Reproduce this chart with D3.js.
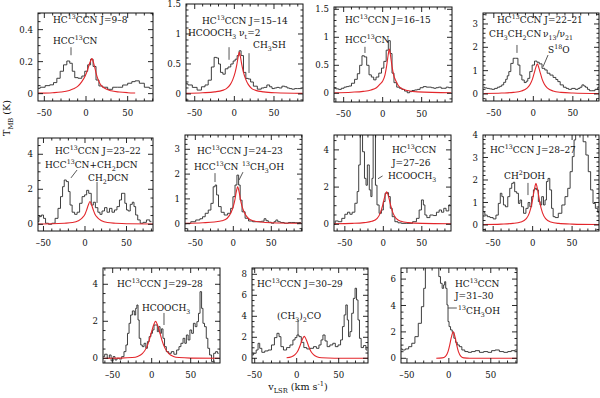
<!DOCTYPE html>
<html>
<head>
<meta charset="utf-8">
<script src="https://cdn.jsdelivr.net/npm/d3@7"></script>
<style>
  body { margin: 0; background: #fff; }
  svg text { font-family: "DejaVu Serif", serif; fill: #111; }
</style>
</head>
<body>
<svg id="chart" width="600" height="398"></svg>
<script>
// ---- Data: spectra [v_LSR, T_MB] ----
const spec1 = [[-58,0.033],[-52,0.04],[-46,0.05],[-41,0.055],[-37,0.069],[-33,0.096],[-29,0.14],[-25,0.18],[-21,0.204],[-18,0.19],[-15,0.14],[-12,0.10],[-7,0.096],[-3,0.11],[0,0.14],[4,0.18],[7,0.215],[10,0.17],[14,0.085],[17,0.048],[23,0.04],[29,0.027],[35,0.04],[41,0.04],[47,0.054],[53,0.065],[57,0.075],[61,0.08],[67,0.065],[73,0.04],[79,0.033]];
const spec2 = [[-61,0.17],[-56,0.15],[-50,0.11],[-44,0.065],[-39,0.12],[-35,0.15],[-31,0.23],[-27,0.45],[-24,0.61],[-21,0.6],[-19,0.5],[-16,0.36],[-13,0.33],[-10,0.42],[-6,0.45],[-3,0.5],[0,0.55],[2,0.58],[5,0.64],[7,0.72],[10,0.64],[13,0.36],[16,0.26],[19,0.25],[22,0.2],[26,0.13],[32,0.08],[36,0.1],[39,0.11],[43,0.15],[46,0.12],[49,0.09],[52,0.1],[55,0.11],[58,0.1],[62,0.13],[65,0.12],[68,0.1],[71,0.09],[74,0.08],[78,0.09],[81,0.09],[85,0.09]];
const spec3 = [[-62,0.09],[-58,0.08],[-55,0.07],[-51,0.09],[-48,0.11],[-45,0.12],[-42,0.13],[-38,0.18],[-34,0.25],[-31,0.35],[-28,0.5],[-25,0.67],[-22,0.65],[-19,0.5],[-16,0.33],[-13,0.29],[-10,0.24],[-7,0.29],[-3,0.36],[0,0.45],[3,0.57],[6,0.77],[8.5,0.94],[11,0.71],[13,0.36],[16,0.19],[20,0.11],[23,0.09],[26,0.07],[30,0.04],[33,0.01],[36,0.03],[39,0.05],[43,0.06],[46,0.07],[50,0.1],[54,0.12],[58,0.11],[61,0.11],[64,0.1],[67,0.09],[70,0.1],[73,0.11],[77,0.09],[80,0.09],[83,0.11],[86,0.1]];
const spec4 = [[-63,0.29],[-60,0.26],[-57,0.24],[-54,0.22],[-51,0.2],[-47,0.24],[-44,0.29],[-41,0.33],[-39,0.39],[-36,0.5],[-34,0.63],[-32,0.78],[-30,0.96],[-27,1.31],[-24,1.53],[-21,1.53],[-18,1.24],[-16,0.81],[-13,0.6],[-10,0.49],[-8,0.55],[-6,0.67],[-3,0.96],[0,1.24],[3,1.41],[6,1.36],[9,1.29],[13,1.1],[16,1.03],[19,0.89],[23,0.81],[27,0.71],[30,0.62],[32,0.53],[36,0.39],[40,0.29],[43,0.24],[46,0.2],[51,0.24],[55,0.2],[58,0.24],[60,0.29],[63,0.39],[65,0.34],[67,0.29],[70,0.2],[72,0.14],[76,0.14],[80,0.2],[83,0.29]];
const spec5 = [[-57,0.15],[-54,0.44],[-51,0.53],[-49,0.34],[-46,0.06],[-42,0.0],[-38,0.06],[-34,0.34],[-31,0.91],[-28,1.58],[-26,2.15],[-24,2.53],[-21,2.44],[-19,1.87],[-17,1.1],[-14,0.69],[-11,0.57],[-8,0.69],[-5,1.2],[-2,1.58],[1,1.68],[3,1.94],[6,1.77],[9,1.1],[11,1.26],[14,0.95],[17,0.69],[19,0.57],[22,0.76],[25,0.95],[28,0.69],[31,0.91],[34,0.69],[37,0.82],[40,1.01],[43,1.39],[45,1.77],[47,1.77],[49,1.2],[51,0.82],[53,0.76],[56,1.14],[58,1.26],[60,1.01],[62,0.53],[65,0.25],[68,0.06],[72,0.11],[76,0.25],[80,0.15]];
const spec6 = [[-64,0.0],[-59,0.01],[-53,0.08],[-46,0.15],[-42,0.2],[-39,0.28],[-35,0.42],[-31,0.55],[-28,0.82],[-25,1.49],[-23,1.56],[-21,1.16],[-18,0.69],[-14,0.46],[-10,0.35],[-5,0.42],[-2,0.62],[1,1.09],[3.5,1.56],[6,1.96],[8,1.56],[10,0.95],[13,0.48],[18,0.22],[22,0.11],[29,0.08],[35,0.08],[39,0.1],[42,0.2],[44,0.12],[48,0.06],[52,0.02],[55,0.08],[57,0.15],[60,0.08],[64,0.05],[70,0.02],[75,0.05],[79,0.05],[84,0.04],[89,0.05]];
const spec7 = [[-64,0.0],[-61,0.18],[-56,0.14],[-52,0.32],[-48,0.54],[-45,0.65],[-42,0.54],[-39,0.65],[-35,1.13],[-33,1.76],[-31,3.19],[-29,5.5],[-28,5.5],[-26,3.9],[-23,2.47],[-22,2.1],[-19.5,3.19],[-17,1.85],[-15.5,1.49],[-14,2.47],[-12.5,5.5],[-11,5.5],[-9.5,2.1],[-7,1.04],[-4,0.59],[-1,0.77],[1,1.22],[3.5,1.67],[5.5,1.7],[8,1.49],[10,0.86],[13,0.41],[17,0.14],[21,0.08],[26,0.05],[35,0.05],[41,0.14],[45,0.32],[48,0.77],[51,1.31],[53,1.04],[55,0.5],[58,0.36],[63,0.5],[67,0.47],[71,0.65],[74,0.77],[77,0.65],[80,0.86],[83,0.72],[87,1.04]];
const spec8 = [[-62,0.56],[-59,0.44],[-56,0.37],[-52,0.33],[-48,0.27],[-45,0.44],[-42,0.96],[-40,1.41],[-38,1.26],[-36,0.89],[-33,0.81],[-30,1.26],[-28,1.63],[-25,1.85],[-24,1.9],[-21.5,1.48],[-19,1.41],[-17,0.96],[-15,1.11],[-13,0.81],[-10,0.52],[-7,0.74],[-4.5,1.0],[-2.5,0.81],[0,1.26],[2,1.56],[4,1.63],[6,1.56],[8.5,1.04],[10.5,0.89],[12.5,1.26],[15,0.89],[16.5,1.11],[18.5,1.93],[20.5,2.07],[23,1.56],[25,0.74],[27,0.37],[30,0.33],[35,0.52],[39,0.89],[43,1.26],[46,1.63],[49,2.37],[51.5,3.04],[53.5,3.78],[55.5,4.5],[62,4.5],[66,3.7],[69,3.11],[72,2.37],[75,1.56],[78,0.96],[81,0.74],[84,0.56]];
const spec9 = [[-62,0.09],[-58.5,0.22],[-55.5,0.0],[-53,0.18],[-51,-0.14],[-48,0.09],[-46,-0.09],[-43,0.0],[-40,-0.04],[-37,0.09],[-34,0.36],[-32,0.72],[-30,1.35],[-28,1.89],[-26,2.34],[-23.5,2.56],[-21,2.34],[-20,2.7],[-18,2.88],[-17,2.07],[-15,1.08],[-13,0.72],[-11,0.63],[-8.5,0.81],[-6.5,0.54],[-4.5,0.9],[-2,1.17],[0,1.35],[2,1.53],[4,1.8],[6.5,1.8],[8,1.44],[10,1.71],[11.5,1.35],[13.5,1.59],[15.5,1.08],[17.5,0.63],[20,0.36],[23.5,0.27],[27,0.36],[30,0.22],[34,0.45],[36,0.63],[39,0.81],[41.5,1.08],[43.5,0.81],[45.5,1.26],[48,0.99],[50,1.53],[52.5,1.35],[54.5,1.89],[57,1.71],[59,1.98],[61,2.43],[63,3.6],[65,2.7],[66.5,1.89],[69,1.71],[71,1.08],[73,0.54],[75.5,0.18],[78,-0.18],[81,0.27],[83,0.36],[86,0.27]];
const spec10 = [[-53,0.32],[-49.5,0.48],[-47,0.79],[-45,1.43],[-43,0.95],[-40,0.57],[-36,0.7],[-32,0.79],[-28,1.27],[-25,1.97],[-22,2.38],[-20,2.06],[-17.5,1.11],[-14,0.79],[-10,1.02],[-6,1.27],[-3,1.75],[-1,1.97],[1.5,2.22],[4,2.06],[7,1.52],[10,1.02],[14,0.89],[18,0.95],[22,1.11],[25,0.95],[28,1.27],[30,1.75],[32.5,2.22],[35,1.65],[37.5,1.11],[41.5,1.27],[44.5,1.43],[47.5,1.11],[51,1.27],[53.5,1.75],[55.5,3.02],[57.5,4.13],[59.5,5.08],[61,3.65],[62.5,2.06],[64.5,2.54],[66.5,4.29],[68.5,5.71],[70.5,6.67],[72,5.56],[74,3.65],[75.5,1.9],[78,1.02],[81,1.21],[84,0.79]];
const spec11 = [[-57,0.71],[-54,0.63],[-50,0.71],[-46,0.88],[-42.5,1.14],[-38.5,1.64],[-34.5,2.65],[-31,3.91],[-29,5.3],[-27,7.5],[-13,7.5],[-11,6.19],[-9,5.68],[-7,5.3],[-5.5,5.56],[-4.5,5.8],[-3,5.3],[-1.5,4.04],[-0.5,2.78],[1,2.4],[3,2.15],[5,1.97],[7,1.52],[9,1.21],[11,1.01],[14,0.88],[17,0.63],[21,0.51],[25,0.45],[29,0.51],[34,0.58],[39,0.45],[44,0.51],[49,0.45],[53,0.58],[57.5,0.63],[63,0.51],[68,0.45],[72.5,0.51],[76.5,0.58],[81,0.63]];

// ---- Data: fitted HC13CCN line profiles (red) ----
const fit1 = [[-58,0.003],[-40,0.006],[-30,0.01],[-20,0.02],[-15,0.03],[-10,0.045],[-5,0.075],[-1,0.11],[2,0.15],[4,0.185],[6,0.21],[7,0.22],[8,0.21],[10,0.175],[12,0.13],[14,0.095],[17,0.06],[22,0.035],[30,0.018],[40,0.01],[50,0.006],[59,0.004]];
const fit2 = [[-61,0.01],[-40,0.02],[-25,0.035],[-15,0.06],[-10,0.09],[-5,0.16],[-2,0.24],[1,0.36],[3,0.48],[5,0.63],[6.3,0.7],[7.5,0.63],[9.5,0.48],[11.5,0.36],[14.5,0.24],[17.5,0.16],[22,0.09],[27,0.06],[37,0.035],[52,0.02],[86,0.01]];
const fit3 = [[-62,0.01],[-40,0.02],[-25,0.035],[-15,0.06],[-8,0.1],[-3,0.17],[0,0.22],[3,0.33],[5,0.48],[7,0.68],[8.5,0.79],[10,0.68],[12,0.48],[14,0.33],[17,0.22],[20,0.14],[25,0.08],[32,0.05],[45,0.025],[88,0.01]];
const fit4 = [[-63,0.02],[-40,0.04],[-25,0.07],[-15,0.13],[-8,0.25],[-4,0.42],[-1,0.65],[1,0.88],[3,1.12],[5.1,1.29],[7,1.12],[9,0.88],[11,0.65],[14,0.42],[18,0.25],[25,0.13],[35,0.07],[50,0.04],[83,0.02]];
const fit5 = [[-57,0.02],[-40,0.03],[-25,0.06],[-15,0.1],[-8,0.2],[-3,0.38],[0,0.58],[2,0.82],[4,1.1],[6,1.3],[8,1.1],[10,0.82],[12,0.58],[15,0.38],[20,0.2],[27,0.1],[37,0.06],[50,0.03],[82,0.02]];
const fit6 = [[-64,0.02],[-40,0.04],[-25,0.07],[-15,0.12],[-8,0.22],[-3,0.45],[0,0.7],[2,0.95],[4,1.3],[5.7,1.49],[7.5,1.3],[9.5,0.95],[11.5,0.7],[14.5,0.45],[19.5,0.22],[26,0.12],[36,0.07],[50,0.04],[90,0.02]];
const fit7 = [[-64,0.03],[-40,0.05],[-25,0.09],[-15,0.16],[-8,0.32],[-4,0.6],[-1,1.0],[1,1.35],[3,1.65],[4.3,1.75],[5.6,1.65],[7.6,1.35],[9.6,1.0],[12.6,0.6],[16.6,0.32],[23,0.16],[33,0.09],[50,0.05],[88,0.03]];
const fit8 = [[-63,0.02],[-40,0.04],[-25,0.07],[-15,0.13],[-8,0.28],[-4,0.55],[-1,0.95],[1,1.35],[3,1.72],[4.2,1.85],[5.4,1.72],[7.4,1.35],[9.4,0.95],[12.4,0.55],[16.4,0.28],[23,0.13],[33,0.07],[50,0.04],[84,0.02]];
const fit9 = [[-62,0],[-40,0.01],[-25,0.04],[-18,0.1],[-12,0.25],[-7,0.55],[-3,1.0],[0,1.45],[3,1.85],[5,2.0],[7,1.85],[10,1.45],[13,1.0],[17,0.55],[22,0.25],[28,0.1],[35,0.04],[50,0.01],[87,0]];
const fit10 = [[-12,0.05],[-6,0.15],[-2,0.35],[1,0.65],[4,1.2],[6,1.65],[8,2.0],[9,2.1],[10,2.0],[12,1.65],[14,1.2],[17,0.65],[20,0.35],[24,0.15],[30,0.05],[45,0.01],[85,0]];
const fit11 = [[-15,0],[-8,0.03],[-4,0.15],[-1,0.5],[1,1.0],[3,1.6],[5.2,2.0],[7.4,1.6],[9.4,1.0],[11.4,0.5],[14.4,0.15],[18,0.03],[25,0],[81,0]];

// ---- Data: labels ----
const transitions = ["J=9–8", "J=15–14", "J=16–15", "J=22–21", "J=23–22", "J=24–23",
                     "J=27–26", "J=28–27", "J=29–28", "J=30–29", "J=31–30"];
const xTicks = [-50, 0, 50];
const yTicks = [[0, 0.2, 0.4], [0, 0.5, 1, 1.5], [0, 0.5, 1, 1.5], [0, 1, 2, 3],
                [0, 2, 4], [0, 1, 2, 3], [0, 2, 4], [0, 1, 2, 3, 4],
                [0, 2, 4], [0, 2, 4, 6, 8], [0, 2, 4, 6]];

const mol = "HC^{13}CCN";

// ---- Layout ----
const panels = [
  { f: [38, 13, 153, 101], xd: [-57.6, 80.4], yd: [-0.046, 0.504], ym: 0.05, spec: spec1, fit: fit1,
    notes: [[mol + "  " + transitions[0], 15, 10], ["HCC^{13}CN", 15, 31]],
    marks: [[[-18, 0.29], [-18, 0.24]]] },
  { f: [186, 4, 303, 101], xd: [-61, 86.6], yd: [-0.117, 1.5], ym: 0.1, spec: spec2, fit: fit2,
    notes: [[mol + " " + transitions[1], 16, 20], ["HCOOCH_{3} ν_{t}=2", 2, 32], ["CH_{3}SH", 67, 44]],
    marks: [[[-6.7, 0.78], [-6.7, 0.57]], [[18.5, 0.68], [18.5, 0.35]]] },
  { f: [334, 7, 452, 102], xd: [-62.4, 88.9], yd: [-0.155, 1.541], ym: 0.1, spec: spec3, fit: fit3,
    notes: [[mol + " " + transitions[2], 11, 16], ["HCC^{13}CN", 11, 36]],
    marks: [[[-22.7, 0.83], [-22.7, 0.72]]] },
  { f: [483, 13, 599, 101], xd: [-63.7, 83.1], yd: [-0.3, 3.47], ym: 0.2, spec: spec4, fit: fit4,
    notes: [[mol + " " + transitions[3], 14, 10], ["CH_{3}CH_{2}CN", 6, 24], ["ν_{13}/ν_{21}", 60, 24], ["S^{18}O", 65, 40]],
    marks: [[[-20.7, 2.1], [-20.7, 1.76]], [[18.6, 1.67], [12.2, 1.16]]] },
  { f: [38, 138, 153, 231], xd: [-56.6, 81.9], yd: [-0.383, 4.93], ym: 0.5, spec: spec5, fit: fit5,
    notes: [[mol + " " + transitions[4], 17, 16], ["HCC^{13}CN+CH_{2}DCN", 7, 30], ["CH_{2}DCN", 50, 43]],
    marks: [[[-9.6, 3.1], [-16.9, 2.65]], [[14.5, 2.42], [14.5, 1.22]]] },
  { f: [185, 135, 302, 231], xd: [-63.6, 90.4], yd: [-0.294, 3.577], ym: 0.2, spec: spec6, fit: fit6,
    notes: [[mol + " " + transitions[5], 12, 19], ["HCC^{13}CN", 9, 35], ["^{13}CH_{3}OH", 57, 35]],
    marks: [[[-24.1, 2.04], [-24.1, 1.68]], [[12.7, 2.08], [7.5, 1.76]]] },
  { f: [334, 135, 451, 231], xd: [-64.1, 87.9], yd: [-0.36, 4.8], ym: 0.5, spec: spec7, fit: fit7,
    notes: [[mol, 58, 18], [transitions[6], 58, 31], ["HCOOCH_{3}", 54, 44]],
    marks: [[[-6.9, 2.45], [-1, 2.6]]] },
  { f: [483, 135, 599, 231], xd: [-62.9, 84.1], yd: [-0.267, 4.0], ym: 0.2, spec: spec8, fit: fit8,
    notes: [[mol + " " + transitions[7], 7, 18], ["CH^{2}DOH", 21, 44]],
    marks: [[[-5.9, 1.87], [-5.9, 1.33]]] },
  { f: [103, 268, 220, 363], xd: [-62.4, 87.6], yd: [-0.254, 4.88], ym: 0.5, spec: spec9, fit: fit9,
    notes: [[mol + " " + transitions[8], 14, 19], ["HCOOCH_{3}", 39, 43]],
    marks: [[[15.8, 2.45], [15.8, 1.8]]] },
  { f: [252, 268, 368, 363], xd: [-53.2, 84.9], yd: [-0.448, 8.6], ym: 0.5, spec: spec10, fit: fit10,
    notes: [[mol + " " + transitions[9], 5, 19], ["(CH_{3})_{2}CO", 25, 51]],
    marks: [[[1.6, 3.65], [1.6, 2.2]]] },
  { f: [401, 268, 517, 363], xd: [-57.1, 81.3], yd: [-0.356, 6.84], ym: 0.5, spec: spec11, fit: fit11,
    notes: [[mol, 54, 19], [transitions[10], 54, 31], ["^{13}CH_{3}OH", 57, 46]],
    marks: [[[-1.2, 3.81], [9.5, 3.81]]] }
];

const svg = d3.select('#chart');
const defs = svg.append('defs');
const FS = 9;         // annotation font size
const TFS = 8.6;      // tick label font size

// Write text with ^{sup} and _{sub} markup as tspans
function rich(t, str, fs) {
  const re = /([\^_])\{([^}]*)\}|([^\^_]+)/g;
  let m, cur = 0;
  while ((m = re.exec(str))) {
    let off, size, txt;
    if (m[3] !== undefined) { off = 0; size = fs; txt = m[3]; }
    else { off = m[1] === '^' ? -0.42 * fs : 0.3 * fs; size = 0.7 * fs; txt = m[2]; }
    t.append('tspan').attr('dy', off - cur).attr('font-size', size).text(txt);
    cur = off;
  }
}

const fmtY = (d) => d === 0 ? '0' : String(d);
const fmtX = (d) => d < 0 ? '–' + Math.abs(d) : String(d);

panels.forEach((p, i) => {
  const [x0, y0, x1, y1] = p.f;
  const x = d3.scaleLinear().domain(p.xd).range([x0, x1]);
  const y = d3.scaleLinear().domain(p.yd).range([y1, y0]);
  const g = svg.append('g');

  defs.append('clipPath').attr('id', 'clip' + i)
    .append('rect').attr('x', x0).attr('y', y0).attr('width', x1 - x0).attr('height', y1 - y0);

  // spectrum (histogram style)
  const step = d3.line().x(d => x(d[0])).y(d => y(d[1])).curve(d3.curveStep);
  g.append('path').datum(p.spec)
    .attr('clip-path', `url(#clip${i})`)
    .attr('d', step).attr('fill', 'none')
    .attr('stroke', '#2a2a2a').attr('stroke-width', 0.9);

  // fitted profile
  const smooth = d3.line().x(d => x(d[0])).y(d => y(d[1])).curve(d3.curveMonotoneX);
  g.append('path').datum(p.fit)
    .attr('clip-path', `url(#clip${i})`)
    .attr('d', smooth).attr('fill', 'none')
    .attr('stroke', '#e3262b').attr('stroke-width', 1.1);

  // frame
  g.append('rect').attr('x', x0).attr('y', y0).attr('width', x1 - x0).attr('height', y1 - y0)
    .attr('fill', 'none').attr('stroke', '#111').attr('stroke-width', 1);

  // ticks on all four sides, pointing inwards
  const xMinor = d3.range(Math.ceil(p.xd[0] / 10) * 10, p.xd[1], 10);
  const yMinor = d3.range(Math.ceil(p.yd[0] / p.ym) * p.ym, p.yd[1], p.ym);
  const tk = g.append('g').attr('stroke', '#111').attr('stroke-width', 0.9);
  xMinor.forEach(v => {
    const L = xTicks.includes(Math.round(v)) ? 5 : 2.5;
    tk.append('line').attr('x1', x(v)).attr('x2', x(v)).attr('y1', y1).attr('y2', y1 - L);
    tk.append('line').attr('x1', x(v)).attr('x2', x(v)).attr('y1', y0).attr('y2', y0 + L);
  });
  yMinor.forEach(v => {
    const major = yTicks[i].some(t => Math.abs(t - v) < 1e-6);
    const L = major ? 5 : 2.5;
    tk.append('line').attr('y1', y(v)).attr('y2', y(v)).attr('x1', x0).attr('x2', x0 + L);
    tk.append('line').attr('y1', y(v)).attr('y2', y(v)).attr('x1', x1).attr('x2', x1 - L);
  });

  // tick labels
  xTicks.forEach(v => {
    g.append('text').attr('x', x(v)).attr('y', y1 + 15)
      .attr('text-anchor', 'middle').attr('font-size', TFS).text(fmtX(v));
  });
  yTicks[i].forEach(v => {
    g.append('text').attr('x', x0 - 5).attr('y', y(v)).attr('dy', '0.36em')
      .attr('text-anchor', 'end').attr('font-size', TFS).text(fmtY(v));
  });

  // annotations
  p.notes.forEach(([s, dx, dy]) => {
    const t = g.append('text').attr('x', x0 + dx).attr('y', y0 + dy).attr('font-size', FS);
    rich(t, s, FS);
  });
  p.marks.forEach(([a, b]) => {
    g.append('line').attr('x1', x(a[0])).attr('y1', y(a[1])).attr('x2', x(b[0])).attr('y2', y(b[1]))
      .attr('stroke', '#444').attr('stroke-width', 0.9);
  });
});

// axis titles
const yl = svg.append('text').attr('transform', 'translate(10,118) rotate(-90)')
  .attr('text-anchor', 'middle').attr('font-size', 9.6);
rich(yl, 'T_{MB} (K)', 9.6);
const xl = svg.append('text').attr('x', 298).attr('y', 390)
  .attr('text-anchor', 'middle').attr('font-size', 9.6);
rich(xl, 'v_{LSR} (km s^{-1})', 9.6);
</script>
</body>
</html>
